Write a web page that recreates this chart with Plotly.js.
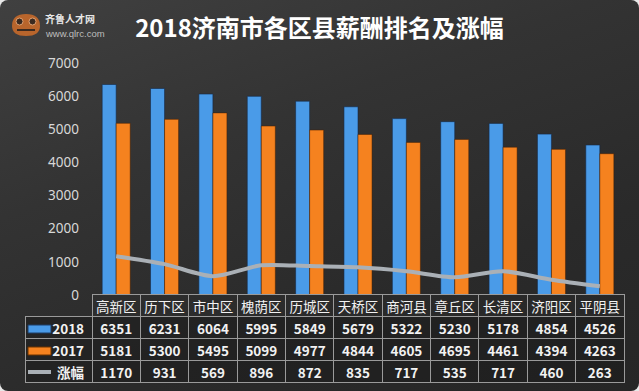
<!DOCTYPE html>
<html><head><meta charset="utf-8">
<script src="https://cdn.plot.ly/plotly-3.0.1.min.js"></script>
<style>
html,body{margin:0;padding:0;background:#e8e8e8;}
#chart{width:639px;height:391px;border-radius:8px;overflow:hidden;
background:linear-gradient(160deg,#404040 0%,#333333 35%,#2a2a2a 70%,#262626 100%);}
</style></head>
<body><div id="chart"></div>
<script>
const categories = ['高新区','历下区','市中区','槐荫区','历城区','天桥区','商河县','章丘区','长清区','济阳区','平阴县'];
const salary2018 = [6351,6231,6064,5995,5849,5679,5322,5230,5178,4854,4526];
const salary2017 = [5181,5300,5495,5099,4977,4844,4605,4695,4461,4394,4263];
const increase = [1170,931,569,896,872,835,717,535,717,460,263];
const seriesNames = ['2018','2017','涨幅'];
const yTicks = [0,1000,2000,3000,4000,5000,6000,7000];

const W=639,H=391;
const px=x=>x/W, py=y=>1-y/H;
const BLUE='#4a9be8', ORANGE='#f5821f', GRAY='#aab0b6';
const FONT='"Noto Sans CJK SC", "Noto Sans", sans-serif';

const traces = [
 {type:'bar', name:seriesNames[0], x:categories, y:salary2018, marker:{color:BLUE,line:{color:'rgba(20,40,70,0.6)',width:1}}, hoverinfo:'skip'},
 {type:'bar', name:seriesNames[1], x:categories, y:salary2017, marker:{color:ORANGE,line:{color:'rgba(70,30,0,0.5)',width:1}}, hoverinfo:'skip'},
 {type:'scatter', mode:'lines', name:seriesNames[2], x:categories, y:increase, line:{color:GRAY,width:4,shape:'spline',smoothing:0.8}, hoverinfo:'skip'},
 {type:'table', domain:{x:[px(25),px(624)], y:[py(383),py(294)]},
  columnwidth:[67].concat(categories.map(()=>48.3)),
  header:{values:[''].concat(categories), height:22, align:'center',
    fill:{color:'rgba(0,0,0,0)'},
    line:{color:['rgba(0,0,0,0)'].concat(categories.map(()=>'#9a9a9a')),width:1},
    font:{family:FONT,size:13.5,color:'#f2f2f2'}},
  cells:{values:[seriesNames].concat(categories.map((c,i)=>[salary2018[i],salary2017[i],increase[i]])),
    height:22, align:['right'].concat(categories.map(()=>'center')),
    fill:{color:'rgba(25,25,25,0.45)'},
    line:{color:'#9a9a9a',width:1},
    font:{family:FONT,size:13.5,color:'#f2f2f2',weight:'bold'}}
 }
];

const shapes = [
 {type:'rect',xref:'paper',yref:'paper',x0:px(28),x1:px(51),y0:py(333),y1:py(325),fillcolor:BLUE,line:{color:'#1d3d66',width:1}},
 {type:'rect',xref:'paper',yref:'paper',x0:px(28),x1:px(51),y0:py(355),y1:py(347),fillcolor:ORANGE,line:{color:'#6b3300',width:1}},
 {type:'line',xref:'paper',yref:'paper',x0:px(28),x1:px(51),y0:py(372),y1:py(372),line:{color:GRAY,width:4}},
 // logo frog
 {type:'path',xref:'paper',yref:'paper',path:`M ${px(12)} ${py(26)} Q ${px(12)} ${py(14)} ${px(26)} ${py(14)} Q ${px(40)} ${py(14)} ${px(40)} ${py(26)} Q ${px(40)} ${py(36)} ${px(26)} ${py(36)} Q ${px(12)} ${py(36)} ${px(12)} ${py(26)} Z`,fillcolor:'#b8652c',line:{width:0}},
 {type:'circle',xref:'paper',yref:'paper',x0:px(16),x1:px(23),y0:py(25),y1:py(18),fillcolor:'#3a2a20',line:{color:'#e0a070',width:1}},
 {type:'circle',xref:'paper',yref:'paper',x0:px(29),x1:px(36),y0:py(25),y1:py(18),fillcolor:'#3a2a20',line:{color:'#e0a070',width:1}},
 {type:'line',xref:'paper',yref:'paper',x0:px(17),x1:px(35),y0:py(30),y1:py(30),line:{color:'#3a2a20',width:2}}
];

const annotations = [
 {xref:'paper',yref:'paper',x:px(43),y:py(19),text:'<b>齐鲁人才网</b>',showarrow:false,xanchor:'left',yanchor:'middle',font:{family:FONT,size:10,color:'#e6e6e6'}},
 {xref:'paper',yref:'paper',x:px(43),y:py(33),text:'www.qlrc.com',showarrow:false,xanchor:'left',yanchor:'middle',font:{family:'"Liberation Sans", sans-serif',size:9.5,color:'#bdbdbd'}}
];

const layout = {
 width:W,height:H,margin:{l:0,r:0,t:0,b:0},
 paper_bgcolor:'rgba(0,0,0,0)',plot_bgcolor:'rgba(0,0,0,0)',
 showlegend:false,
 title:{text:'<b>2018济南市各区县薪酬排名及涨幅</b>',x:0.5,xanchor:'center',y:py(29),yref:'container',yanchor:'middle',
   font:{family:FONT,size:24,color:'#ffffff'}},
 barmode:'group',bargap:0.42,bargroupgap:0,
 xaxis:{domain:[px(92),px(624)],range:[-0.5,10.5],showticklabels:false,showgrid:false,zeroline:false,showline:false,fixedrange:true},
 yaxis:{domain:[py(295),py(63)],range:[0,7000],tickvals:yTicks,showgrid:false,zeroline:false,showline:false,
   ticks:'',ticklabelstandoff:12,tickfont:{family:'"Noto Sans", sans-serif',size:13.5,color:'#d8d8d8'}},
 shapes:shapes,annotations:annotations
};
Plotly.newPlot('chart',traces,layout,{displayModeBar:false,staticPlot:true});
</script></body></html>
